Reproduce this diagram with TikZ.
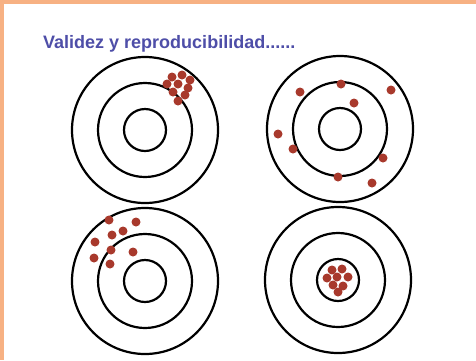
\documentclass[tikz,border=0pt]{standalone}
\usepackage{fontspec}
\setmainfont{Liberation Sans}
\definecolor{frameOrange}{HTML}{F7B183}
\definecolor{titleBlue}{HTML}{4E4EA8}
\definecolor{shotRed}{HTML}{A8392C}

\begin{document}
\begin{tikzpicture}[x=1pt,y=-1pt]
    \useasboundingbox (0,0) rectangle (476,360);
    \fill[frameOrange] (0,0) rectangle (476,360);
    \fill[white] (4,4) rectangle (476,360);

    \node[anchor=base west, inner sep=0, font=\bfseries\fontsize{18}{20}\selectfont, titleBlue] (title) at (43,48) {Validez y reproducibilidad......};

    % targets
    \foreach \cx/\cy in {145/130, 340/129, 145/281, 338/280}
        \draw[line width=2.2pt] (\cx,\cy) circle (73pt) (\cx,\cy) circle (47pt) (\cx,\cy) circle (21pt);

    % shots
    \foreach \px/\py in {172/77, 182/75, 190/80, 167/84, 178/84, 188/88, 173/92, 185/95, 178/101,
                         300/92, 341/84, 391/90, 354/103, 278/134, 293/149, 383/158, 338/177, 372/183,
                         109/220, 136/222, 123/231, 112/235, 95/242, 111/250, 133/252, 94/258, 110/264,
                         332/270, 342/269, 327/278, 337/277, 348/277, 333/285, 343/286, 338/292}
        \fill[shotRed] (\px,\py) circle (4.5pt);
\end{tikzpicture}
\end{document}
